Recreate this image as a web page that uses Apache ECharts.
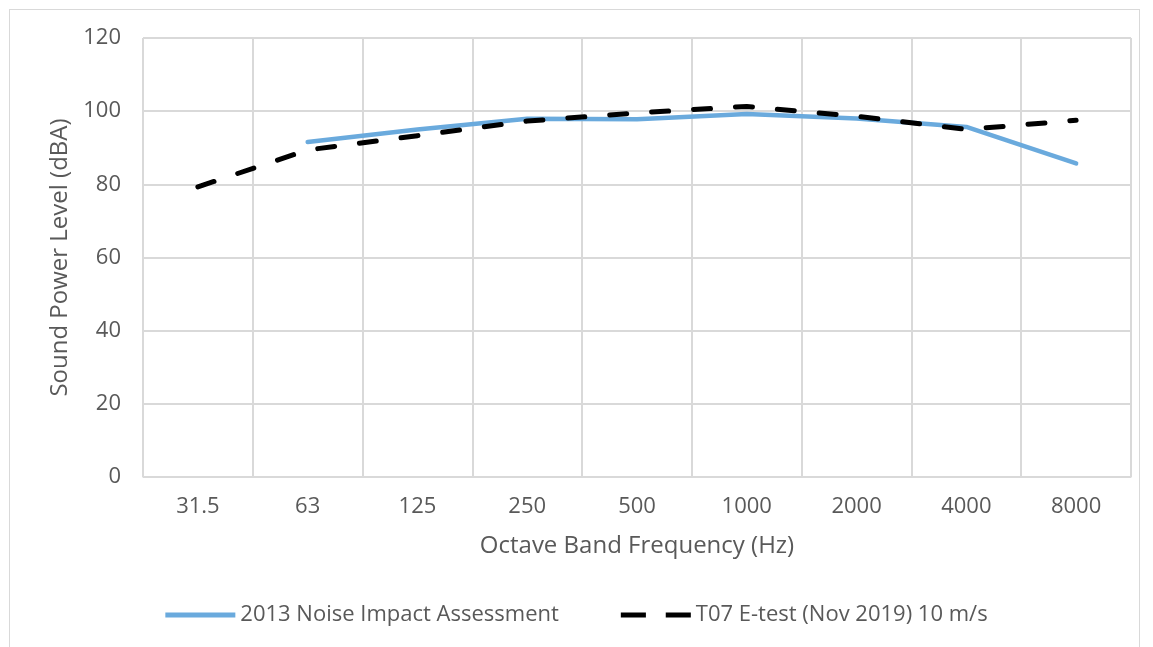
<!DOCTYPE html>
<html>
<head>
<meta charset="utf-8">
<script src="https://cdn.jsdelivr.net/npm/echarts@6/dist/echarts.min.js"></script>
<style>
  html, body { margin: 0; padding: 0; background: #fff; }
  #frame { position: absolute; left: 9px; top: 9px; width: 1131px; height: 660px; border: 1px solid #d9d9d9; box-sizing: border-box; }
  #chart { position: absolute; left: 0; top: 0; width: 1153px; height: 647px; }
</style>
</head>
<body>
<div id="frame"></div>
<div id="chart"></div>
<script>
// octave band centre frequencies
const bands = ['31.5', '63', '125', '250', '500', '1000', '2000', '4000', '8000']
// 2013 assessment (no 31.5 Hz value)
const assess2013 = [null, 91.6, 95.0, 97.9, 97.8, 99.2, 98.0, 95.7, 85.7]
// T07 E-test, Nov 2019, 10 m/s
const etest2019 = [79.3, 89.4, 93.3, 97.3, 99.5, 101.3, 98.6, 95.0, 97.5]
const yTicks = [0, 20, 40, 60, 80, 100, 120]

const font = '"Open Sans", sans-serif'
const grey = '#595959'

let chart = echarts.init(document.getElementById('chart'))
chart.setOption({
	animation: false,
	grid: { left: 143, right: 22, top: 38, bottom: 170 },
	legend: {
		bottom: 16,
		left: 'center',
		itemWidth: 70,
		itemHeight: 14,
		itemGap: 62,
		textStyle: { color: grey, fontSize: 22, fontFamily: font, padding: [0, 0, 0, 0] },
		data: [
			{ name: '2013 Noise Impact Assessment', icon: 'path://M0,0 L70,0 L70,5 L0,5 Z' },
			{ name: 'T07 E-test (Nov 2019) 10 m/s', icon: 'path://M0,0 L24,0 L24,5 L0,5 Z M43,0 L67,0 L67,5 L43,5 Z' }
		]
	},
	xAxis: {
		type: 'category',
		data: bands,
		boundaryGap: true,
		name: 'Octave Band Frequency (Hz)',
		nameLocation: 'middle',
		nameGap: 57,
		nameTextStyle: { color: grey, fontSize: 24, fontFamily: font },
		axisLine: { lineStyle: { color: '#d9d9d9', width: 1 } },
		axisTick: { show: false },
		axisLabel: { color: grey, fontSize: 22, fontFamily: font, margin: 19 },
		splitLine: { show: true, lineStyle: { color: '#d9d9d9', width: 2 } }
	},
	yAxis: {
		type: 'value',
		min: yTicks[0],
		max: yTicks[yTicks.length - 1],
		interval: 20,
		name: 'Sound Power Level (dBA)',
		nameLocation: 'middle',
		nameGap: 70,
		nameTextStyle: { color: grey, fontSize: 24, fontFamily: font },
		axisLine: { show: true, lineStyle: { color: '#d9d9d9', width: 1 } },
		axisTick: { show: false },
		axisLabel: { color: grey, fontSize: 22, fontFamily: font, margin: 22 },
		splitLine: { lineStyle: { color: '#d9d9d9', width: 2 } }
	},
	series: [{
		name: '2013 Noise Impact Assessment',
		type: 'line',
		data: assess2013,
		symbol: 'none',
		color: '#6aaadd',
		lineStyle: { width: 4.5, cap: 'round', join: 'round' }
	}, {
		name: 'T07 E-test (Nov 2019) 10 m/s',
		type: 'line',
		data: etest2019,
		symbol: 'none',
		color: '#000',
		lineStyle: { width: 5, type: [17, 25], cap: 'round', join: 'round' }
	}]
})
</script>
</body>
</html>
